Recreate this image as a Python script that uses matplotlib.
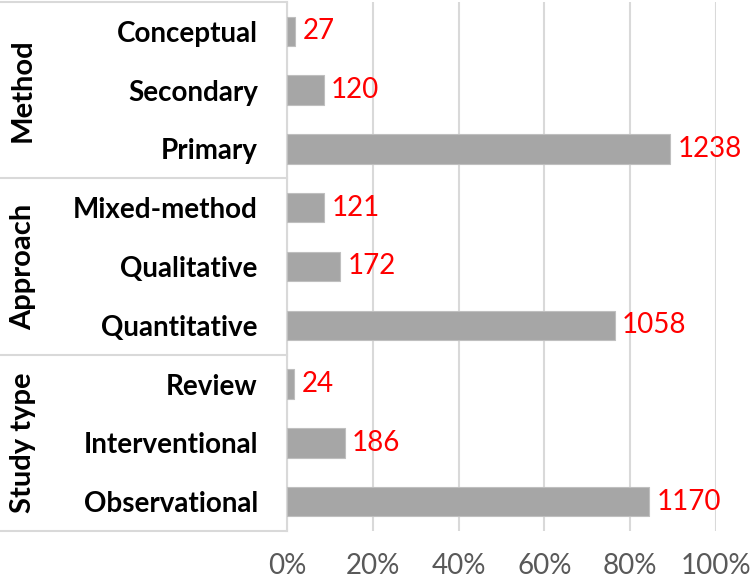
import matplotlib
matplotlib.use('Agg')
import matplotlib.pyplot as plt
from matplotlib.ticker import PercentFormatter

plt.rcParams['font.family'] = ['Lato', 'DejaVu Sans']

# categories, top to bottom, grouped
groups = ['Method', 'Approach', 'Study type']
categories = ['Conceptual', 'Secondary', 'Primary',
              'Mixed-method', 'Qualitative', 'Quantitative',
              'Review', 'Interventional', 'Observational']
counts = [27, 120, 1238,
          121, 172, 1058,
          24, 186, 1170]
total = 1385  # number of studies
xticks = [0, 0.2, 0.4, 0.6, 0.8, 1.0]

shares = [c / total for c in counts]
rows = list(range(len(categories)))

fig = plt.figure(figsize=(7.5, 5.81), dpi=100)
ax = fig.add_axes([287 / 750, 1 - 531 / 581, 429 / 750, 529 / 581])

ax.barh(rows, shares, height=0.5, color='#A6A6A6', edgecolor='#BFBFBF',
        linewidth=0.8, zorder=3)

# red count labels at the end of each bar
for r, s, c in zip(rows, shares, counts):
    ax.annotate(str(c), (s, r), xytext=(5, 0), textcoords='offset points',
                va='center', ha='left', color='#FF0000', fontsize=20)

ax.set_xlim(0, 1)
ax.set_ylim(len(categories) - 0.5, -0.5)
ax.set_xticks(xticks)
ax.xaxis.set_major_formatter(PercentFormatter(1.0, decimals=0))
ax.set_yticks(rows)
ax.set_yticklabels(categories, fontweight='bold', fontsize=20)
ax.tick_params(axis='y', length=0, pad=21)
ax.tick_params(axis='x', length=0, pad=16, labelsize=20, labelcolor='#595959')

ax.grid(axis='x', color='#D9D9D9', linewidth=1.5, zorder=0)
for side in ['top', 'right', 'bottom']:
    ax.spines[side].set_visible(False)
ax.spines['left'].set_color('#D9D9D9')
ax.spines['left'].set_linewidth(1.5)

# group boxes on the left
trans = ax.get_yaxis_transform()
x0 = -287 / 429
for yb in [-0.5, 2.5, 5.5, 8.5]:
    ax.plot([x0, 0], [yb, yb], color='#D9D9D9', linewidth=1.5,
            transform=trans, clip_on=False)
for i, g in enumerate(groups):
    ax.text(x0 + 23 / 429, 3 * i + 1, g, transform=trans, rotation=90,
            ha='center', va='center', fontweight='bold', fontsize=21)

fig.savefig('out.png', dpi=100)
